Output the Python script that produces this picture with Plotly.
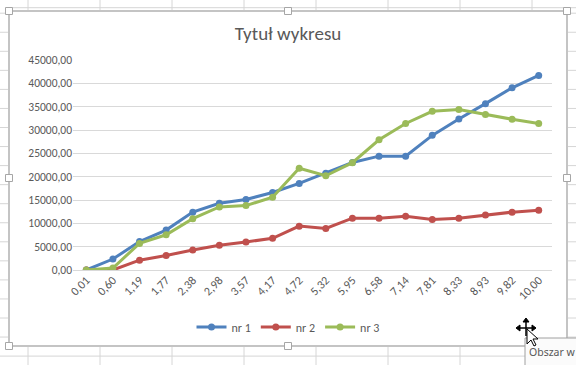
import plotly.graph_objects as go

# ---- data ----
x_labels = ["0,01", "0,60", "1,19", "1,77", "2,38", "2,98", "3,57", "4,17", "4,72",
            "5,32", "5,95", "6,58", "7,14", "7,81", "8,33", "8,93", "9,82", "10,00"]
nr1 = [0, 2350, 6100, 8550, 12400, 14300, 15100, 16600, 18550,
       20750, 23050, 24400, 24400, 28850, 32350, 35650, 39050, 41700]
nr2 = [0, 0, 2100, 3100, 4300, 5300, 6000, 6800, 9400,
       8900, 11100, 11100, 11500, 10800, 11100, 11800, 12400, 12800]
nr3 = [0, 430, 5700, 7550, 11000, 13500, 13800, 15600, 21800,
       20200, 23000, 27900, 31400, 34000, 34400, 33300, 32300, 31400]
series_names = ["nr 1", "nr 2", "nr 3"]
series_colors = ["#4F81BD", "#C0504D", "#9BBB59"]
title_text = "Tytuł wykresu"
tooltip_text = "Obszar w"

W, H = 576, 365
ML, MR, MT, MB = 73, 24, 60, 95
PW, PH = W - ML - MR, H - MT - MB


def px(x):
    return (x - ML) / PW


def py(y):
    return (H - MB - y) / PH


FONT = "Carlito, Calibri, Lato, sans-serif"
TXT = "#595959"

fig = go.Figure()
for name, vals, col in zip(series_names, [nr1, nr2, nr3], series_colors):
    fig.add_trace(go.Scatter(
        x=x_labels, y=vals, name=name, mode="lines+markers",
        line=dict(color=col, width=3),
        marker=dict(color=col, size=7, symbol="circle"),
    ))

shapes = []
GRID = "#d6d6d6"
# spreadsheet cell grid behind the chart
for k in range(8):
    xv = 28 + 72 * k
    shapes.append(dict(type="line", xref="paper", yref="paper", layer="below",
                       x0=px(xv), x1=px(xv), y0=py(0), y1=py(H),
                       line=dict(color=GRID, width=1)))
for k in range(19):
    yv = 13.2 + 19.05 * k
    shapes.append(dict(type="line", xref="paper", yref="paper", layer="below",
                       x0=px(0), x1=px(W), y0=py(yv), y1=py(yv),
                       line=dict(color=GRID, width=1)))
shapes.append(dict(type="line", xref="paper", yref="paper", layer="below",
                   x0=px(9), x1=px(W), y0=py(7.7), y1=py(7.7),
                   line=dict(color=GRID, width=1)))
# chart area box
shapes.append(dict(type="rect", xref="paper", yref="paper", layer="below",
                   x0=px(9), x1=px(567), y0=py(11), y1=py(346),
                   fillcolor="white", line=dict(color="#c4c4c4", width=2)))
# selection handles
for hx, hy in [(9, 11), (288, 11), (567, 11), (9, 178), (567, 178),
               (9, 346), (288, 346), (567, 346)]:
    shapes.append(dict(type="rect", xref="paper", yref="paper", layer="below",
                       x0=px(hx - 3.5), x1=px(hx + 3.5), y0=py(hy - 3.5), y1=py(hy + 3.5),
                       fillcolor="white", line=dict(color="#a6a6a6", width=1)))
# tooltip box
shapes.append(dict(type="rect", xref="paper", yref="paper", layer="above",
                   x0=px(525), x1=px(640), y0=py(338), y1=py(372),
                   fillcolor="#fbfbfb", line=dict(color="#a0a0a0", width=1)))


def path_of(points, close=True):
    s = "M " + " L ".join(f"{px(a):.5f},{py(b):.5f}" for a, b in points)
    return s + (" Z" if close else "")


# move cursor (four arrows)
cx, cy = 526, 328
shapes.append(dict(type="path", xref="paper", yref="paper", layer="above",
                   path=path_of([(cx - 8, cy), (cx + 8, cy)], close=False),
                   line=dict(color="black", width=1.5)))
shapes.append(dict(type="path", xref="paper", yref="paper", layer="above",
                   path=path_of([(cx, cy - 8), (cx, cy + 8)], close=False),
                   line=dict(color="black", width=1.5)))
for tri in [[(cx - 10, cy), (cx - 6, cy - 3), (cx - 6, cy + 3)],
            [(cx + 10, cy), (cx + 6, cy - 3), (cx + 6, cy + 3)],
            [(cx, cy - 10), (cx - 3, cy - 6), (cx + 3, cy - 6)]]:
    shapes.append(dict(type="path", xref="paper", yref="paper", layer="above",
                       path=path_of(tri), fillcolor="black", line=dict(color="black", width=1)))
# pointer arrow
tx, ty = 527, 329
arrow = [(0, 0), (0, 15), (4, 11), (7, 17), (9, 16), (6, 10), (11, 10)]
shapes.append(dict(type="path", xref="paper", yref="paper", layer="above",
                   path=path_of([(tx + a, ty + b) for a, b in arrow]),
                   fillcolor="white", line=dict(color="black", width=1)))

fig.update_layout(
    width=W, height=H,
    margin=dict(l=ML, r=MR, t=MT, b=MB, autoexpand=False),
    paper_bgcolor="white", plot_bgcolor="rgba(0,0,0,0)",
    separators=",.",
    font=dict(family=FONT, size=12, color=TXT),
    title=dict(text=title_text, x=px(288), xref="paper", xanchor="center",
               y=1 - 33 / H, yanchor="middle", font=dict(family=FONT, size=19, color=TXT)),
    showlegend=True,
    legend=dict(orientation="h", x=px(288), xanchor="center", y=py(327), yanchor="middle",
                font=dict(family=FONT, size=12, color=TXT), bgcolor="rgba(0,0,0,0)",
                itemwidth=30, tracegroupgap=0),
    xaxis=dict(type="category", range=[-0.5, len(x_labels) - 0.5], automargin=False,
               showgrid=False, showline=False, zeroline=False,
               tickangle=-45, ticks="", tickfont=dict(family=FONT, size=12, color=TXT)),
    yaxis=dict(range=[0, 45000], dtick=5000, tickformat=".2f", showgrid=True, automargin=False,
               gridcolor="#d9d9d9", gridwidth=1, zeroline=True, zerolinecolor="#d9d9d9",
               zerolinewidth=1, showline=False, ticks="",
               tickfont=dict(family=FONT, size=11.5, color=TXT)),
    shapes=shapes,
    annotations=[dict(text=tooltip_text, xref="paper", yref="paper", x=px(527), y=py(352),
                      xanchor="left", yanchor="middle", showarrow=False,
                      font=dict(family="Noto Sans, sans-serif", size=10.5, color="#575757"))],
)

fig.write_html("out.html", config={"displayModeBar": False},
               post_script="document.body.style.margin='0';document.body.style.overflow='hidden';")
